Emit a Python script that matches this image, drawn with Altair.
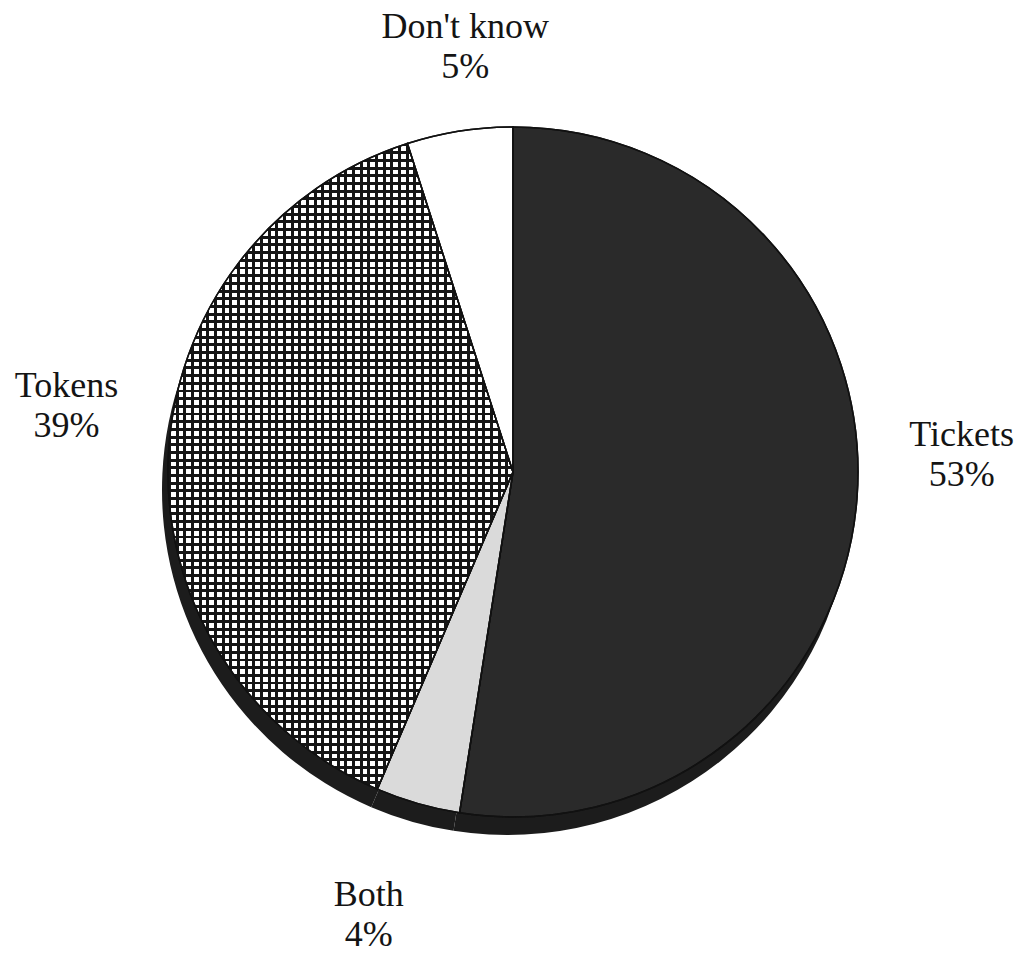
import altair as alt
import pandas as pd

# ---- data ----
categories = ["Tickets", "Both", "Tokens", "Don't know"]
percents = [53, 4, 39, 5]

df = pd.DataFrame({"cat": categories, "pct": percents, "idx": list(range(len(categories)))})
df["label"] = df["cat"] + "\n" + df["pct"].astype(str) + "%"

# ---- layout / style ----
W, H = 1028, 954
CX, CY, R = 513, 472, 345
SHADOW_DX, SHADOW_DY = -6, 18
FONT = "Liberation Serif"


def stripes(n, frac, vertical_lines):
    stops = []
    line, clear = "#151515", "transparent"
    for i in range(n):
        a = i / n
        b = (i + frac) / n
        c = (i + 1) / n
        stops += [
            {"offset": round(a, 5), "color": line},
            {"offset": round(b, 5), "color": line},
            {"offset": round(b, 5), "color": clear},
            {"offset": round(c, 5), "color": clear},
        ]
    g = {"gradient": "linear", "stops": stops, "x1": 0, "y1": 0}
    if vertical_lines:
        g.update({"x2": 1, "y2": 0})
    else:
        g.update({"x2": 0, "y2": 1})
    return g


base = alt.Chart(df)
theta = alt.Theta("pct:Q", stack=True)
order = alt.Order("idx:Q")
cx = alt.value(CX)
cy = alt.value(CY)

shadow = base.mark_arc(radius=R, color="#1c1c1c", strokeWidth=0).encode(
    theta=theta, order=order, x=alt.value(CX + SHADOW_DX), y=alt.value(CY + SHADOW_DY)
)

pie = base.mark_arc(radius=R, stroke="#111111", strokeWidth=1.5).encode(
    theta=theta,
    order=order,
    x=cx,
    y=cy,
    color=alt.Color(
        "cat:N",
        scale=alt.Scale(domain=categories, range=["#2a2a2a", "#dadada", "#ffffff", "#ffffff"]),
        legend=None,
    ),
)

tokens_idx = categories.index("Tokens")
grid_h = base.mark_arc(radius=R, strokeWidth=0).encode(
    theta=theta, order=order, x=cx, y=cy,
    fill=alt.condition(f"datum.idx === {tokens_idx}", alt.value(stripes(84, 0.38, False)), alt.value("transparent")),
)
grid_v = base.mark_arc(radius=R, strokeWidth=0).encode(
    theta=theta, order=order, x=cx, y=cy,
    fill=alt.condition(f"datum.idx === {tokens_idx}", alt.value(stripes(45, 0.38, True)), alt.value("transparent")),
)

outline = base.mark_arc(radius=R, fill="white", fillOpacity=0, stroke="#111111", strokeWidth=1.5).encode(
    theta=theta, order=order, x=cx, y=cy
)

# label offsets from the slice mid-angle position
label_offsets = {0: (0, -72), 1: (-20, -9), 2: (3, -65), 3: (22, 0)}
labels = []
for i in range(len(categories)):
    dx, dy = label_offsets[i]
    labels.append(
        base.mark_text(
            radius=450, font=FONT, fontSize=36, lineBreak="\n", lineHeight=40,
            align="center", baseline="middle", dx=dx, dy=dy, color="#141414",
        ).encode(
            theta=theta, order=order, x=cx, y=cy,
            text=alt.condition(f"datum.idx === {i}", "label:N", alt.value("")),
        )
    )

chart = (
    alt.layer(shadow, pie, grid_h, grid_v, outline, *labels)
    .properties(width=W, height=H, padding=0, autosize="none", background="white")
    .configure_view(strokeWidth=0)
)

chart.save("out.html", embed_options={"renderer": "svg", "actions": False})
